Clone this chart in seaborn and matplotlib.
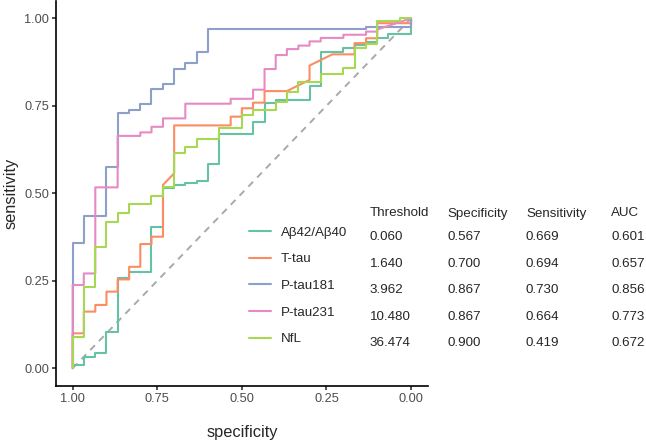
"""ROC curves of plasma biomarkers with a threshold table."""
import matplotlib
matplotlib.use("Agg")
import matplotlib.pyplot as plt
import pandas as pd
import seaborn as sns

MARKERS = ["Aβ42/Aβ40", "T-tau", "P-tau181", "P-tau231", "NfL"]
COLORS = ["#66C2A5", "#FC8D62", "#8DA0CB", "#E78AC3", "#A6D854"]

# ROC corner points (specificity, sensitivity)
AB_SPEC = [1, 1, 0.967, 0.967, 0.933, 0.933, 0.9, 0.9, 0.867, 0.867, 0.833, 0.833, 0.767, 0.767,
           0.733, 0.733, 0.7, 0.7, 0.667, 0.667, 0.633, 0.633, 0.6, 0.6, 0.567, 0.567, 0.467, 0.467,
           0.433, 0.433, 0.4, 0.4, 0.3, 0.3, 0.267, 0.267, 0.2, 0.2, 0.167, 0.167, 0.133, 0.133,
           0.1, 0.1, 0.067, 0.067, 0, 0]
AB_SENS = [0, 0.01, 0.01, 0.033, 0.033, 0.043, 0.043, 0.105, 0.105, 0.259, 0.259, 0.276, 0.276, 0.405,
           0.405, 0.514, 0.514, 0.524, 0.524, 0.528, 0.528, 0.535, 0.535, 0.583, 0.583, 0.669, 0.669, 0.705,
           0.705, 0.757, 0.757, 0.767, 0.767, 0.807, 0.807, 0.905, 0.905, 0.914, 0.914, 0.924, 0.924, 0.933,
           0.933, 0.943, 0.943, 0.955, 0.955, 1]

TT_SPEC = [1, 1, 0.967, 0.967, 0.933, 0.933, 0.9, 0.9, 0.867, 0.867, 0.833, 0.833, 0.8, 0.8,
           0.767, 0.767, 0.733, 0.733, 0.7, 0.7, 0.533, 0.533, 0.5, 0.5, 0.467, 0.467, 0.433, 0.433,
           0.367, 0.3, 0.3, 0.233, 0.167, 0.167, 0.133, 0.133, 0.1, 0.1, 0, 0]
TT_SENS = [0, 0.10, 0.10, 0.162, 0.162, 0.181, 0.181, 0.219, 0.219, 0.254, 0.254, 0.29, 0.29, 0.355,
           0.355, 0.376, 0.376, 0.524, 0.557, 0.694, 0.694, 0.719, 0.719, 0.743, 0.743, 0.759, 0.759, 0.792,
           0.792, 0.824, 0.865, 0.897, 0.897, 0.929, 0.929, 0.943, 0.943, 0.986, 0.986, 1]

P181_SPEC = [1, 1, 0.967, 0.967, 0.9, 0.9, 0.867, 0.867, 0.833, 0.833, 0.8, 0.8, 0.767, 0.767,
             0.733, 0.733, 0.7, 0.7, 0.667, 0.667, 0.633, 0.633, 0.6, 0.6, 0.133, 0.133, 0, 0]
P181_SENS = [0, 0.358, 0.358, 0.436, 0.436, 0.576, 0.576, 0.730, 0.730, 0.738, 0.738, 0.755, 0.755, 0.797,
             0.797, 0.812, 0.812, 0.854, 0.854, 0.871, 0.871, 0.903, 0.903, 0.969, 0.969, 0.976, 0.976, 1]

P231_SPEC = [1, 1, 0.967, 0.967, 0.933, 0.933, 0.867, 0.867, 0.8, 0.8, 0.767, 0.767, 0.733, 0.733,
             0.667, 0.667, 0.533, 0.533, 0.467, 0.467, 0.433, 0.433, 0.4, 0.4, 0.367, 0.367, 0.333, 0.333,
             0.3, 0.3, 0.267, 0.267, 0.2, 0.2, 0.133, 0.133, 0.1, 0.1, 0]
P231_SENS = [0, 0.238, 0.238, 0.271, 0.271, 0.517, 0.517, 0.664, 0.664, 0.674, 0.674, 0.690, 0.690, 0.714,
             0.714, 0.756, 0.756, 0.770, 0.770, 0.796, 0.796, 0.855, 0.855, 0.895, 0.895, 0.912, 0.912, 0.922,
             0.922, 0.934, 0.934, 0.944, 0.944, 0.953, 0.953, 0.962, 0.962, 0.968, 1]

NFL_SPEC = [1, 1, 0.967, 0.967, 0.933, 0.933, 0.9, 0.9, 0.867, 0.867, 0.833, 0.833, 0.767, 0.767,
            0.733, 0.733, 0.7, 0.7, 0.667, 0.667, 0.633, 0.633, 0.567, 0.567, 0.5, 0.5, 0.467, 0.467,
            0.4, 0.4, 0.367, 0.367, 0.333, 0.333, 0.267, 0.267, 0.2, 0.2, 0.167, 0.167, 0.133, 0.133,
            0.1, 0.1, 0.033, 0.033, 0]
NFL_SENS = [0, 0.09, 0.09, 0.233, 0.233, 0.347, 0.347, 0.419, 0.419, 0.445, 0.445, 0.469, 0.469, 0.492,
            0.492, 0.519, 0.519, 0.614, 0.614, 0.631, 0.631, 0.655, 0.655, 0.687, 0.687, 0.724, 0.724, 0.738,
            0.738, 0.76, 0.76, 0.79, 0.79, 0.819, 0.819, 0.84, 0.84, 0.857, 0.857, 0.914, 0.914, 0.926,
            0.926, 0.992, 0.992, 1.0, 1.0]

SPECS = [AB_SPEC, TT_SPEC, P181_SPEC, P231_SPEC, NFL_SPEC]
SENSES = [AB_SENS, TT_SENS, P181_SENS, P231_SENS, NFL_SENS]

THRESHOLD = ["0.060", "1.640", "3.962", "10.480", "36.474"]
BEST_SPEC = [0.567, 0.700, 0.867, 0.867, 0.900]
BEST_SENS = [0.669, 0.694, 0.730, 0.664, 0.419]
AUC = [0.601, 0.657, 0.856, 0.773, 0.672]
TABLE_HEADER = ["Threshold", "Specificity", "Sensitivity", "AUC"]

sns.set_theme(style="white")
plt.rcParams["font.family"] = ["Liberation Sans", "DejaVu Sans"]

frames = []
for name, spec, sens in zip(MARKERS, SPECS, SENSES):
    frames.append(pd.DataFrame({"marker": name, "specificity": spec, "sensitivity": sens}))
df = pd.concat(frames, ignore_index=True)

W, H = 646, 444
fig = plt.figure(figsize=(W / 100, H / 100), dpi=100)
ax = fig.add_axes([55.7 / W, 1 - 385.8 / H, (428 - 55.7) / W, 385 / H])

ax.plot([1, 0], [0, 1], color="#A9A9A9", lw=1.4, dashes=(3.5, 3), zorder=1)
sns.lineplot(data=df, x="specificity", y="sensitivity", hue="marker", hue_order=MARKERS,
             palette=COLORS, sort=False, estimator=None, linewidth=1.5, ax=ax, zorder=2)

ax.set_xlim(1.05, -0.05)
ax.set_ylim(-0.05, 1.05)
ticks = [0, 0.25, 0.5, 0.75, 1.0]
ax.set_xticks(ticks)
ax.set_yticks(ticks)
ax.set_xticklabels([f"{t:.2f}" for t in ticks])
ax.set_yticklabels([f"{t:.2f}" for t in ticks])
ax.tick_params(axis="both", length=2.9, width=1.1, color="#222222", labelsize=9.2,
               labelcolor="#4D4D4D", pad=2, left=True, bottom=True)
sns.despine(ax=ax)
for side in ["left", "bottom"]:
    ax.spines[side].set_linewidth(1.2)
    ax.spines[side].set_color("black")
ax.set_xlabel("specificity", fontsize=11.8, labelpad=15)
ax.set_ylabel("sensitivity", fontsize=11.8, labelpad=4)

handles, labels = ax.get_legend_handles_labels()
for h in handles:
    h.set_linewidth(1.5)
ax.legend(handles, labels, loc="upper left", bbox_to_anchor=(249.3 / W, 1 - 226.5 / H),
          bbox_transform=fig.transFigure, frameon=False, fontsize=9.6, handlelength=1.6,
          handletextpad=0.75, labelspacing=1.07, borderpad=0, borderaxespad=0)

col_x = [370, 447, 526, 611]
for cx, head in zip(col_x, TABLE_HEADER):
    fig.text(cx / W, 1 - 216.5 / H, head, fontsize=9.6, va="baseline")
for i in range(len(MARKERS)):
    yb = 1 - (240 + 26.5 * i) / H
    row = [THRESHOLD[i], f"{BEST_SPEC[i]:.3f}", f"{BEST_SENS[i]:.3f}", f"{AUC[i]:.3f}"]
    for cx, val in zip(col_x, row):
        fig.text(cx / W, yb, val, fontsize=9.6, va="baseline")

fig.savefig("out.png", dpi=100)
